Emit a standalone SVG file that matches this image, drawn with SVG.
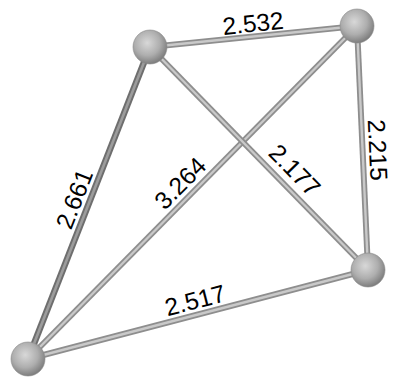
<svg xmlns="http://www.w3.org/2000/svg" width="394" height="380" viewBox="0 0 394 380">
  <defs>
    <radialGradient id="ball" cx="0.42" cy="0.38" r="0.62">
      <stop offset="0" stop-color="#d8d8d8"/>
      <stop offset="0.6" stop-color="#aeaeae"/>
      <stop offset="1" stop-color="#7e7e7e"/>
    </radialGradient>
  </defs>
  <style>
    .edge-o { stroke: #8e8e8e; stroke-width: 6; fill: none; }
    .edge-i { stroke: #c9c9c9; stroke-width: 2.4; fill: none; }
    .dark-o { stroke: #6e6e6e; stroke-width: 6.5; fill: none; }
    .dark-i { stroke: #9c9c9c; stroke-width: 2.6; fill: none; }
    .node { fill: url(#ball); stroke: #8a8a8a; stroke-width: 0.6; }
    .lbl { font-family: "Liberation Sans", Arial, sans-serif; font-size: 24.5px; fill: #000; text-anchor: middle; }
  </style>
  <rect width="394" height="380" fill="#ffffff"/>
  <g id="connectors">
    <g id="e-3264">
      <line class="edge-o" x1="28" y1="359" x2="357" y2="26"/>
      <line class="edge-i" x1="28" y1="359" x2="357" y2="26"/>
    </g>
    <g id="e-2177">
      <line class="edge-o" x1="150" y1="47" x2="368" y2="270"/>
      <line class="edge-i" x1="150" y1="47" x2="368" y2="270"/>
    </g>
    <g id="e-2532">
      <line class="edge-o" x1="150" y1="47" x2="357" y2="26"/>
      <line class="edge-i" x1="150" y1="47" x2="357" y2="26"/>
    </g>
    <g id="e-2215">
      <line class="edge-o" x1="357" y1="26" x2="368" y2="270"/>
      <line class="edge-i" x1="357" y1="26" x2="368" y2="270"/>
    </g>
    <g id="e-2517">
      <line class="edge-o" x1="28" y1="359" x2="368" y2="270"/>
      <line class="edge-i" x1="28" y1="359" x2="368" y2="270"/>
    </g>
    <g id="e-2661">
      <line class="dark-o" x1="28" y1="359" x2="150" y2="47"/>
      <line class="dark-i" x1="28" y1="359" x2="150" y2="47"/>
    </g>
    <text class="lbl" transform="translate(253,23) rotate(-5.8)" dy="0.36em">2.532</text>
    <text class="lbl" transform="translate(74,199) rotate(-68.6)" dy="0.36em">2.661</text>
    <text class="lbl" transform="translate(180,183) rotate(-45.3)" dy="0.36em">3.264</text>
    <text class="lbl" transform="translate(295,170) rotate(45.6)" dy="0.36em">2.177</text>
    <text class="lbl" transform="translate(378,150) rotate(87.4)" dy="0.36em">2.215</text>
    <text class="lbl" transform="translate(195,300) rotate(-14.5)" dy="0.36em">2.517</text>
  </g>
  <g id="node-a"><circle class="node" cx="150" cy="47" r="17"/></g>
  <g id="node-b"><circle class="node" cx="357" cy="26" r="17"/></g>
  <g id="node-c"><circle class="node" cx="368" cy="270" r="17"/></g>
  <g id="node-d"><circle class="node" cx="28" cy="359" r="17"/></g>
</svg>
